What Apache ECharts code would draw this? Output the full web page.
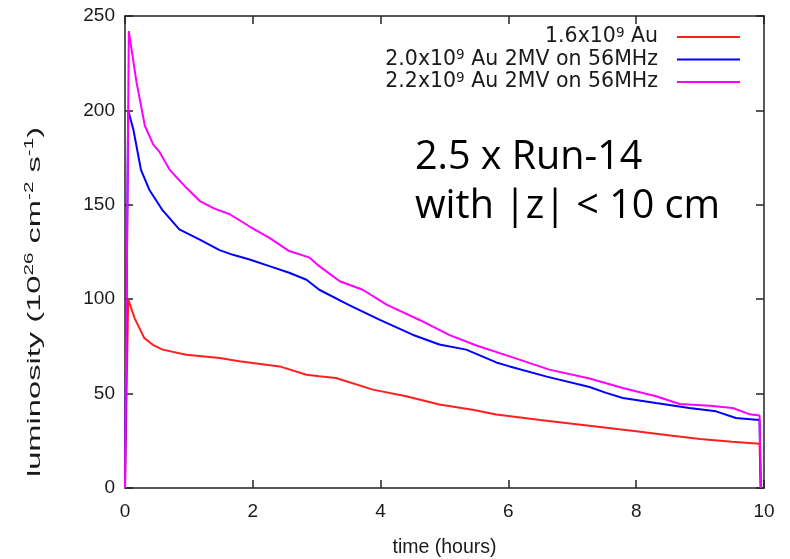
<!DOCTYPE html>
<html>
<head>
<meta charset="utf-8">
<script src="https://cdn.jsdelivr.net/npm/echarts@6/dist/echarts.min.js"></script>
<style>html,body{margin:0;padding:0;background:#fff;}#c{width:790px;height:559px;}</style>
</head>
<body>
<div id="c"></div>
<script>
// ---- data ----
var seriesNames = ['1.6x10^9 Au', '2.0x10^9 Au 2MV on 56MHz', '2.2x10^9 Au 2MV on 56MHz'];
var xTicks = [0, 2, 4, 6, 8, 10];
var yTicks = [0, 50, 100, 150, 200, 250];

var redT = [0, 0.05, 0.15, 0.3, 0.45, 0.59, 0.96, 1.48, 1.79, 2.0, 2.42, 2.84, 3.04, 3.3, 3.88, 4.4, 4.92, 5.44, 5.81, 6.5, 7.0, 7.5, 8.0, 8.5, 9.0, 9.5, 9.93, 9.95];
var redV = [0, 100, 90, 79.5, 75.5, 73.3, 70.6, 68.9, 67.1, 66.2, 64.4, 60, 59.2, 58.3, 52.1, 48.6, 44.2, 41.5, 38.9, 36, 34, 32, 30, 28, 26, 24.5, 23.5, 0];

var blueT = [0, 0.05, 0.13, 0.25, 0.38, 0.59, 0.85, 1.17, 1.48, 1.69, 1.95, 2.26, 2.57, 2.84, 3.04, 3.5, 3.98, 4.5, 4.92, 5.34, 5.81, 6.02, 6.6, 7.27, 7.53, 7.79, 8.31, 8.83, 9.25, 9.56, 9.88, 9.93, 9.95];
var blueV = [0, 200, 190, 168.5, 158, 147, 137, 131.5, 126, 123.5, 121, 117.5, 114, 110.3, 105, 97, 89.2, 81.2, 76, 73.3, 66.5, 64.4, 59, 53.5, 50.4, 47.7, 45, 42.4, 40.6, 37.1, 36.2, 36, 0];

var magT = [0, 0.06, 0.18, 0.31, 0.44, 0.54, 0.70, 0.96, 1.17, 1.40, 1.64, 1.95, 2.26, 2.57, 2.89, 3.04, 3.36, 3.72, 4.1, 4.61, 5.08, 5.5, 6.02, 6.64, 7.27, 7.79, 8.31, 8.68, 9.15, 9.51, 9.78, 9.93, 9.95];
var magV = [0, 242, 215, 192, 182, 178, 168.5, 159, 152, 148, 145, 138.5, 132.5, 125.5, 122, 117.5, 109.5, 105, 97, 89, 81, 75.5, 69.7, 62.7, 58, 53, 48.6, 44.5, 43.6, 42.4, 39, 38.4, 0];

var annotation = ['2.5 x Run-14', 'with |z| < 10 cm'];
var xName = 'time (hours)';

// ---- helpers ----
function pairs(t, v) { return t.map(function (x, i) { return [x, v[i]]; }); }
function supFmt(name) {
  var p = name.split('^');
  return '{n|' + p[0] + '}{s|' + p[1].charAt(0) + '}{n|' + p[1].slice(1) + '}';
}
var FONT = 'Liberation Sans';
var LFONT = 'DejaVu Sans';
var TXT = '#1a1a1a';
var colors = ['#ff1f1f', '#0000ff', '#ff00ff'];
var dataSets = [pairs(redT, redV), pairs(blueT, blueV), pairs(magT, magV)];

var richLegend = {
  n: { fontFamily: LFONT, fontSize: 20.5, color: TXT, lineHeight: 22 },
  s: { fontFamily: LFONT, fontSize: 13.5, color: TXT, lineHeight: 22, verticalAlign: 'top' }
};

var legends = seriesNames.map(function (nm, i) {
  return {
    data: [nm], right: 50, top: 26 + i * 22.5, orient: 'horizontal', align: 'right',
    padding: 0, itemWidth: 63, itemHeight: 2, icon: 'rect', selectedMode: false,
    formatter: function (n) { return supFmt(n); },
    textStyle: { padding: [0, 14, 0, 0], rich: richLegend }
  };
});

var axisLineStyle = { color: '#222', width: 1.5 };
var tickStyle = { color: '#222', width: 1.5 };

var option = {
  animation: false,
  backgroundColor: '#fff',
  grid: { left: 125, right: 26, top: 16, bottom: 71, containLabel: false, outerBoundsMode: 'none' },
  legend: legends,
  xAxis: [{
    type: 'value', min: xTicks[0], max: xTicks[xTicks.length - 1], interval: xTicks[1] - xTicks[0],
    position: 'bottom', name: xName, nameLocation: 'middle', nameGap: 50,
    nameTextStyle: { fontFamily: FONT, fontSize: 19.5, color: TXT },
    axisLine: { show: true, onZero: false, lineStyle: axisLineStyle },
    axisTick: { show: true, inside: true, length: 8, lineStyle: tickStyle },
    axisLabel: { fontFamily: FONT, fontSize: 19, color: TXT, margin: 14 },
    splitLine: { show: false }
  }, {
    type: 'value', min: xTicks[0], max: xTicks[xTicks.length - 1], interval: xTicks[1] - xTicks[0],
    position: 'top',
    axisLine: { show: true, onZero: false, lineStyle: axisLineStyle },
    axisTick: { show: true, inside: true, length: 8, lineStyle: tickStyle },
    axisLabel: { show: false }, splitLine: { show: false }
  }],
  yAxis: [{
    type: 'value', min: yTicks[0], max: yTicks[yTicks.length - 1], interval: yTicks[1] - yTicks[0],
    position: 'left',
    axisLine: { show: true, onZero: false, lineStyle: axisLineStyle },
    axisTick: { show: true, inside: true, length: 8, lineStyle: tickStyle },
    axisLabel: { fontFamily: FONT, fontSize: 19, color: TXT, margin: 10 },
    splitLine: { show: false }
  }, {
    type: 'value', min: yTicks[0], max: yTicks[yTicks.length - 1], interval: yTicks[1] - yTicks[0],
    position: 'right',
    axisLine: { show: true, onZero: false, lineStyle: axisLineStyle },
    axisTick: { show: true, inside: true, length: 8, lineStyle: tickStyle },
    axisLabel: { show: false }, splitLine: { show: false }
  }],
  series: seriesNames.map(function (nm, i) {
    return {
      name: nm, type: 'line', xAxisIndex: 0, yAxisIndex: 0, data: dataSets[i],
      symbol: 'none', smooth: false, color: colors[i],
      lineStyle: { color: colors[i], width: 2 }, z: 2 + i
    };
  }),
  graphic: [{
    type: 'text', left: 415, top: 133,
    style: { text: annotation.join('\n'), fontFamily: 'Open Sans', fontSize: 39.5, lineHeight: 49, fill: '#000' }
  }, {
    type: 'text', x: 35, y: 302, rotation: Math.PI / 2, scaleX: 1.72,
    style: {
      text: '{n|luminosity (10}{s|26}{n| cm}{s|-2}{n| s}{s|-1}{n|)}',
      align: 'center', verticalAlign: 'middle',
      rich: {
        n: { fontFamily: FONT, fontSize: 19, fill: TXT, lineHeight: 22 },
        s: { fontFamily: FONT, fontSize: 12, fill: TXT, lineHeight: 22, verticalAlign: 'top' }
      }
    }
  }]
};

var chart = echarts.init(document.getElementById('c'), null, { renderer: 'canvas' });
chart.setOption(option);
</script>
</body>
</html>
